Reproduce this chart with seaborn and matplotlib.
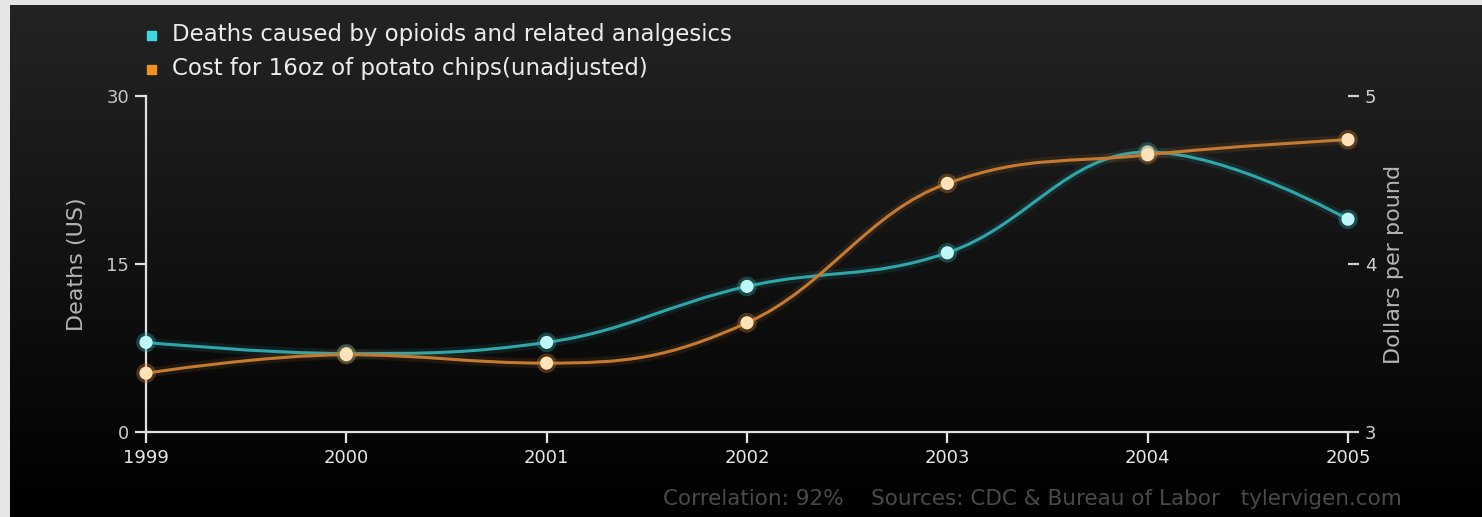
import matplotlib
matplotlib.use("Agg")
import matplotlib.pyplot as plt
from matplotlib.path import Path
from matplotlib.patches import PathPatch, Rectangle
import seaborn as sns
import pandas as pd
import numpy as np

years = [1999, 2000, 2001, 2002, 2003, 2004, 2005]
deaths = [8, 7, 8, 13, 16, 25, 19]
chips = [3.35, 3.46, 3.41, 3.65, 4.48, 4.65, 4.74]

deaths_label = "Deaths caused by opioids and related analgesics"
chips_label = "Cost for 16oz of potato chips(unadjusted)"
footer = "Correlation: 92%    Sources: CDC & Bureau of Labor   tylervigen.com"

TEAL = "#2fa7aa"
ORANGE = "#c47a30"


def spline_path(xs, ys):
    # highcharts-style spline: bezier control points from neighbours
    smoothing, denom = 1.5, 2.5
    n = len(xs)
    lc = [(xs[i], ys[i]) for i in range(n)]
    rc = [(xs[i], ys[i]) for i in range(n)]
    for i in range(1, n - 1):
        px, py = xs[i], ys[i]
        lx, ly = xs[i - 1], ys[i - 1]
        nx, ny = xs[i + 1], ys[i + 1]
        lcx = (smoothing * px + lx) / denom
        lcy = (smoothing * py + ly) / denom
        rcx = (smoothing * px + nx) / denom
        rcy = (smoothing * py + ny) / denom
        corr = (rcy - lcy) * (rcx - px) / (rcx - lcx) + py - rcy
        lcy += corr
        rcy += corr
        if lcy > ly and lcy > py:
            lcy = max(ly, py)
            rcy = 2 * py - lcy
        elif lcy < ly and lcy < py:
            lcy = min(ly, py)
            rcy = 2 * py - lcy
        if rcy > ny and rcy > py:
            rcy = max(ny, py)
            lcy = 2 * py - rcy
        elif rcy < ny and rcy < py:
            rcy = min(ny, py)
            lcy = 2 * py - rcy
        lc[i] = (lcx, lcy)
        rc[i] = (rcx, rcy)
    verts = [(xs[0], ys[0])]
    codes = [Path.MOVETO]
    for i in range(1, n):
        verts += [rc[i - 1], lc[i], (xs[i], ys[i])]
        codes += [Path.CURVE4] * 3
    return Path(verts, codes)


fig = plt.figure(figsize=(14.82, 5.17), dpi=100)
fig.patch.set_facecolor("#e6e6e6")

# dark gradient panel
bg = fig.add_axes([10 / 1482, 0, 1 - 10 / 1482, 1 - 5 / 517])
grad = np.linspace(0.14, 0.0, 256).reshape(-1, 1)
bg.imshow(grad, aspect="auto", cmap="gray", vmin=0, vmax=1, extent=[0, 1, 0, 1])
bg.set_axis_off()

ax = fig.add_axes([146 / 1482, 1 - 432 / 517, (1348 - 146) / 1482, (432 - 96) / 517])
ax.set_facecolor("none")
ax2 = ax.twinx()
ax2.set_facecolor("none")

df = pd.DataFrame({"year": years, "deaths": deaths, "chips": chips})

for a, col, color, mfc in [(ax, "deaths", TEAL, "#bff6f8"), (ax2, "chips", ORANGE, "#ffe2b8")]:
    p = spline_path(years, df[col].tolist())
    a.add_patch(PathPatch(p, fill=False, edgecolor=color, lw=7, alpha=0.12, zorder=2))
    a.add_patch(PathPatch(p, fill=False, edgecolor=color, lw=2.2, zorder=3))
    sns.scatterplot(data=df, x="year", y=col, ax=a, s=200, color=color, alpha=0.35,
                    edgecolor="none", zorder=4, legend=False, clip_on=False)
    sns.scatterplot(data=df, x="year", y=col, ax=a, s=90, color=mfc,
                    edgecolor="none", zorder=5, legend=False, clip_on=False)

ax.set_xlim(1999, 2005)
ax.set_ylim(0, 30)
ax2.set_ylim(3, 5)
ax.set_xticks(years)
ax.set_xticklabels([str(y) for y in years])
ax.set_yticks([0, 15, 30])
ax2.set_yticks([3, 4, 5])

for s in ["top", "right"]:
    ax.spines[s].set_visible(False)
for s in ["top", "right", "left", "bottom"]:
    ax2.spines[s].set_visible(False)
ax.spines["left"].set_color("#e0e0e0")
ax.spines["bottom"].set_color("#e0e0e0")
ax.spines["left"].set_linewidth(1.6)
ax.spines["bottom"].set_linewidth(1.6)
ax.spines["left"].set_zorder(1)

ax.tick_params(axis="x", colors="#e6e6e6", labelcolor="#e6e6e6", length=8, width=1.6,
               labelsize=13, pad=4)
ax.tick_params(axis="y", colors="#e0e0e0", labelcolor="#c8c8c8", length=8, width=1.6,
               labelsize=13, pad=4)
ax2.tick_params(axis="y", colors="#d0d0d0", labelcolor="#d0d0d0", length=8, width=1.6,
                labelsize=13, pad=4)

ax.set_xlabel("")
ax.set_ylabel("Deaths (US)", color="#b4b4b4", fontsize=16, labelpad=14)
ax2.set_ylabel("Dollars per pound", color="#b4b4b4", fontsize=16, labelpad=6)

# legend
fig.patches.append(Rectangle((147 / 1482, 1 - 40 / 517), 9 / 1482, 9 / 517,
                             transform=fig.transFigure, color="#3fd8e2", figure=fig))
fig.patches.append(Rectangle((147 / 1482, 1 - 74 / 517), 9 / 1482, 9 / 517,
                             transform=fig.transFigure, color="#f0901e", figure=fig))
fig.text(172 / 1482, 1 - 35 / 517, deaths_label, color="#ececec", fontsize=16.5, va="center")
fig.text(172 / 1482, 1 - 69 / 517, chips_label, color="#ececec", fontsize=16.5, va="center")

fig.text(1402 / 1482, 1 - 499 / 517, footer, color="#4a4a4a", fontsize=15.5, va="center", ha="right")

fig.savefig("out.png", dpi=100, facecolor=fig.get_facecolor())
